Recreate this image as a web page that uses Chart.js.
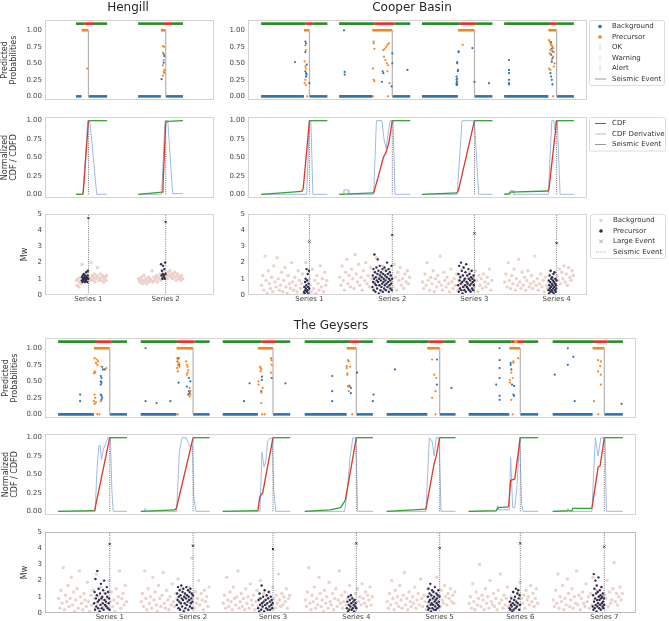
<!DOCTYPE html>
<html>
<head>
<meta charset="utf-8">
<script src="https://cdn.jsdelivr.net/npm/chart.js@4/dist/chart.umd.min.js"></script>
<style>
  body { margin: 0; background: #fff; width: 669px; height: 621px; position: relative; overflow: hidden; }
  canvas { position: absolute; }
</style>
</head>
<body>
<canvas id="h1"></canvas><canvas id="h2"></canvas><canvas id="h3"></canvas>
<canvas id="c1"></canvas><canvas id="c2"></canvas><canvas id="c3"></canvas>
<canvas id="g1"></canvas><canvas id="g2"></canvas><canvas id="g3"></canvas>
<script>
// ---- Hengill ----
const hengillLabels = ['Series 1', 'Series 2'];
const hengillStart = [0, 90];
const hengillEnd = [45, 155];
const hengillPre = [8, 123];
const hengillRise = [10, 125];
const hengillEvent = [18, 130];
const hengillAlert = [[12, 26], [126, 139]];
const hengillWarn = [];
const hengillLarge = [4.75, 4.5];
const hengillBgProb = [[124, 0.26], [127, 0.64], [128, 0.61], [127, 0.51]];
const hengillPreProb = [[16, 0.42], [126, 0.76], [128, 0.75], [126, 0.66], [127, 0.55], [126, 0.47], [128, 0.4], [127, 0.37], [128, 0.35], [126, 0.31]];
const hengillCdf = [
  [[0, 0], [10, 0], [11, 0.1], [18, 1], [45, 1]],
  [[90, 0], [125, 0.03], [126, 0.1], [130, 0.98], [133, 0.99], [155, 1]]
];
const hengillCdfd = [
  [[0, 0], [10, 0], [17, 1], [20, 1], [30, 0], [45, 0]],
  [[90, 0], [124, 0], [129, 1], [133, 1], [140, 0.01], [155, 0.01]]
];
const hengillBgMw = [
  [0.9,0.6,1.0,0.5,0.8,1.1,0.7,1.9,0.9,1.0,0.8,1.2,0.9,1.4,1.0,0.8,1.1,0.9,1.0,2.0,1.2,0.9,1.1,1.3,0.8,1.0,1.2,1.7,1.1,0.9,1.0,1.3,0.9,1.1,1.2,0.8,1.0,1.1,0.9,1.2],
  [1.0,0.8,0.9,1.1,0.7,0.9,1.2,0.8,1.0,0.7,0.9,1.1,0.8,1.0,0.9,1.5,0.8,1.1,0.9,1.0,1.2,0.8,1.1,1.0,1.3,0.9,1.2,1.0,1.4,1.1,1.3,1.2,1.0,1.4,1.2,1.5,1.1,1.3,1.0,1.2,1.4,1.1,0.9,1.3,1.2,1.0,1.1,0.9,1.2,1.0]
];
const hengillPreMw = [
  [0.9,1.1,0.8,1.2,1.0,0.9,1.3,1.0,1.1,0.8,1.2,1.0,0.9,1.4,1.1,1.0,0.8,1.2,1.5,1.0],
  [1.9,1.2,1.5,1.0,1.3,1.8,1.1,1.2,1.6,1.0,2.0,1.3]
];

// ---- Cooper Basin ----
const cooperLabels = ['Series 1', 'Series 2', 'Series 3', 'Series 4'];
const cooperStart = [0, 113, 233, 352];
const cooperEnd = [96, 216, 335, 453];
const cooperPre = [62, 161, 285, 416];
const cooperRise = [59, 163, 284, 416];
const cooperEvent = [70, 190, 309, 428];
const cooperAlert = [[64, 74], [164, 193], [287, 310], [417, 428]];
const cooperWarn = [];
const cooperLarge = [3.3, 3.7, 3.8, 3.2];
const cooperBgProb = [
  [49,0.52],[64,0.83],[65,0.8],[64,0.67],[66,0.48],[64,0.38],[65,0.35],[66,0.33],[65,0.3],[70,0.2],
  [120,1.0],[121,0.37],[121,0.33],[176,0.38],[177,0.35],[175,0.22],[190,0.65],[190,0.5],[189,0.15],[212,0.4],
  [284,0.52],[284,0.5],[286,0.68],[286,0.67],[285,0.4],[285,0.38],[283,0.3],[284,0.27],[283,0.25],[284,0.22],[283,0.2],[284,0.18],[283,0.17],[306,0.73],[309,0.22],[330,0.2],
  [359,0.55],[359,0.4],[359,0.35],[359,0.25],[359,0.2],[359,0.18],[420,0.82],[421,0.72],[422,0.68],[420,0.63],[422,0.58],[421,0.52],[419,0.35],[420,0.3],[421,0.25],[422,0.18]
];
const cooperPreProb = [
  [64,0.77],[65,0.7],[63,0.53],[64,0.45],[65,0.42],[64,0.25],[63,0.2],[65,0.17],[67,0],
  [163,0.83],[163,0.8],[164,0.72],[162,0.42],[163,0.25],[164,0.23],[177,0.7],[179,0.72],[181,0.75],[183,0.78],[185,0.8],[178,0.6],[180,0.55],[182,0.5],[184,0.47],[186,0.2],[183,0.38],[162,0],[184,0],
  [292,0.78],
  [417,0.85],[418,0.83],[419,0.8],[420,0.78],[421,0.77],[422,0.75],[423,0.73],[419,0.7],[424,0.67],[418,0.65],[423,0.6],[421,0.55],[425,0.5],[424,0.45],[417,0.42],[419,0.4],[423,0]
];
const cooperCdf = [
  [[0,0],[59,0.04],[61,0.08],[70,1],[96,1]],
  [[113,0],[163,0.02],[170,0.25],[177,0.5],[181,0.57],[185,0.7],[188,0.88],[190,1],[216,1]],
  [[233,0],[284,0.02],[286,0.06],[309,1],[335,1]],
  [[352,0],[360,0.01],[361,0.03],[416,0.045],[417,0.08],[428,1],[453,1]]
];
const cooperCdfd = [
  [[0,0],[66,0],[70,1],[72,1],[75,0],[96,0]],
  [[113,0],[119,0],[120,0.06],[126,0.06],[127,0],[163,0],[167,1],[175,1],[178,0.75],[181,0.62],[185,0.9],[187,1],[191,1],[194,0],[216,0]],
  [[233,0],[284,0],[291,1],[309,1],[315,0],[335,0]],
  [[352,0],[360,0],[361,0.05],[365,0.05],[366,0],[416,0],[421,1],[424,1],[425,0.88],[427,1],[429,1],[433,0],[453,0]]
];
const cooperBgMw = [
  [0.6,1.2,0.3,2.4,0.9,0.1,1.5,0.7,0.4,1.1,0.2,1.8,0.8,0.5,2.3,1.0,0.3,0.6,1.4,0.2,0.9,1.7,0.5,0.1,1.2,0.7,0.4,2.0,0.8,0.3,1.1,0.6,0.2,1.5,0.9,0.4,0.7,1.3,0.1,0.5,2.0,0.8,0.3,1.0,0.6,0.2,1.6,0.4,0.9,0.1,1.2,0.7,0.3,1.8,0.5,1.0,0.2,1.4,0.6,0.9],
  [1.1,0.6,1.8,0.9,0.3,1.4,2.2,0.7,1.2,0.5,1.6,1.0,0.4,2.5,1.3,0.8,1.9,0.6,1.1,0.3,1.5,0.9,2.0,0.7,1.2,0.5,1.7,1.0,0.4,1.4,0.8,2.3,1.1,0.6,1.3,0.2,1.8,0.9,1.5,0.7,1.0,0.4,1.6,1.2,0.8,0.5,1.9,1.1,0.3,1.4,0.9,1.7,0.6,1.0,0.4,1.3,0.8,1.5,0.7,1.1],
  [0.8,0.4,1.3,0.6,2.0,0.9,0.3,1.1,0.7,1.5,0.2,1.0,0.5,1.2,0.8,2.4,0.6,0.3,1.4,0.9,0.5,1.1,0.7,0.2,1.6,0.8,0.4,1.0,0.6,1.3,0.3,0.9,1.2,0.5,0.7,1.7,0.4,1.0,0.6,0.8,1.4,0.3,1.1,0.7,0.5,1.5,0.9,0.2,1.2,0.6,1.0,0.4,1.3,0.8,0.5,1.1,0.7,1.6,0.3,0.9],
  [0.8,1.3,0.5,2.0,0.9,0.4,1.2,0.7,1.6,0.3,1.0,0.6,2.2,0.8,0.4,1.4,0.6,1.1,0.3,0.9,1.5,0.5,0.7,1.2,0.4,0.8,2.4,0.6,1.0,0.3,0.7,1.3,0.5,0.9,0.2,1.1,0.6,0.4,0.8,1.5,0.3,0.7,1.0,0.5,0.6,1.2,0.9,1.6,0.7,1.4,1.0,1.8,0.8,1.3,0.6,1.7,1.1,0.9,1.5,1.2]
];
const cooperPreMw = [
  [0.2,0.5,0.1,0.8,0.3,1.0,0.4,0.6,1.6,0.2,0.9,0.3,1.3,0.5,0.1,0.7,1.5,0.4],
  [0.5,1.2,0.8,1.6,0.3,1.0,2.5,0.7,1.4,0.2,1.1,0.6,1.7,0.9,0.4,1.3,2.2,0.8,1.5,0.1,1.0,0.6,1.8,1.2,0.3,0.9,1.4,0.5,1.1,0.7,1.6,0.2,1.3,0.8,1.0,0.4,1.7,0.6,1.2,0.9,0.3,1.5,0.7,1.1,2.0,0.5,1.3,0.8,1.6,0.2,1.0,0.6,1.4,0.9,0.4,1.2,0.7,1.8,0.3,1.0],
  [0.6,1.3,0.2,1.8,0.9,0.4,1.1,0.7,2.0,0.3,1.5,0.8,0.1,1.2,0.5,1.7,0.9,0.3,1.0,0.6,1.4,0.2,1.9,0.8,0.5,1.2,0.7,0.4,1.6,1.0,0.3,1.3,0.6,0.9,0.2,1.1,0.7,1.5,0.4,1.0,0.8,0.3,1.2,0.6,0.9],
  [0.3,0.9,0.1,0.6,1.2,0.4,0.8,0.2,1.5,0.5,1.0,0.3,0.7,1.1,0.2,0.6,0.9,0.4,1.3,0.1,0.8,0.5,1.4,0.3,0.7,1.0,0.2,0.6,0.4,0.9]
];

// ---- The Geysers ----
const geysersLabels = ['Series 1', 'Series 2', 'Series 3', 'Series 4', 'Series 5', 'Series 6', 'Series 7'];
const geysersStart = [0, 120, 239, 358, 477, 596, 718];
const geysersEnd = [100, 220, 337, 457, 577, 697, 820];
const geysersPre = [52, 172, 290, 419, 536, 655, 776];
const geysersRise = [53, 170, 290, 417, 534, 654, 775];
const geysersEvent = [75, 196, 312, 433, 554, 671, 793];
const geysersAlert = [[55, 78], [174, 198], [295, 315], [424, 437], [538, 560], [658, 675], [778, 798]];
const geysersWarn = [[662, 667]];
const geysersLarge = [4.25, 4.15, 3.95, 4.3, 4.0, 4.3, 4.1];
const geysersBgProb = [
  [32,0.3],[32,0.2],[62,0.58],[63,0.55],[62,0.5],[63,0.48],[62,0.45],[68,0.68],[64,0.72],[65,0.68],[62,0.3],[63,0.28],[64,0.25],[63,0.22],
  [127,1.0],[127,0.2],[143,0.17],[163,0.2],[175,0.85],[176,0.75],[175,0.48],[190,0.55],[192,0.5],[187,0.42],[190,0.35],[191,0.32],[189,0.3],
  [270,0.2],[278,0.47],[296,0.57],[296,0.52],[295,0.35],[310,0.55],[330,0.47],
  [398,0.58],[398,0.35],[398,0.2],[423,0.43],[425,0.4],[425,0.32],[434,0.63],[458,0.3],[457,0.2],
  [489,0.68],[550,0.83],[550,0.45],[571,0.4],
  [641,1.0],[641,0.82],[641,0.7],[641,0.55],[641,0.28],[641,0.22],[636,0.45],[657,0.78],[657,0.75],[658,0.68],[659,0.45],[662,0.43],[661,0.3],[662,0.28],
  [740,1.0],[748,0.87],[740,0.75],[721,0.6],[750,0.2],[818,0.16]
];
const geysersPreProb = [
  [53,0.85],[56,0.83],[58,0.8],[55,0.78],[57,0.75],[53,0.65],[54,0.63],[52,0.62],[63,0.72],[70,0.7],[53,0.3],[54,0.25],[52,0.2],[55,0.18],[53,0.16],[62,0.2],[57,0],[60,0],
  [173,0.85],[174,0.83],[173,0.8],[175,0.78],[174,0.75],[176,0.72],[173,0.7],[174,0.65],[186,0.8],[187,0.75],[188,0.72],[189,0.67],[188,0.63],[187,0.6],[191,0.4],[192,0.35],[192,0.3],[191,0.27],[174,0],
  [293,0.72],[294,0.7],[295,0.68],[294,0.65],[291,0.5],[291,0.45],[297,0.4],[295,0.33],[295,0.17],[309,0.85],[310,0.82],[310,0.75],[309,0.63],[296,0],[300,0],
  [421,0.82],[422,0.8],[419,0.73],[419,0.7],[420,0.62],[420,0.6],[421,0.43],[421,0.42],[424,0.72],[422,0.35],[427,0],
  [543,0.83],[546,0.6],[549,0.55],[548,0.35],[543,0.25],[548,0],
  [668,0.85],[661,0.8],[661,0.78],[658,0.63],[660,0.55],[656,0.52],[656,0.48],[658,0.22],[660,0],
  [778,0.2],[784,0.82],[788,0.8],[787,0.73],[784,0.65],[788,0.6],[788,0.45],[784,0]
];
const geysersCdf = [
  [[0,0],[53,0.01],[75,1],[100,1]],
  [[120,0],[170,0.02],[172,0.05],[196,1],[220,1]],
  [[239,0],[290,0.01],[293,0.2],[297,0.25],[312,1],[337,1]],
  [[358,0],[395,0.02],[410,0.05],[417,0.15],[433,1],[457,1]],
  [[477,0],[534,0.03],[546,0.65],[549,0.75],[554,1],[577,1]],
  [[596,0],[636,0.01],[639,0.05],[654,0.06],[657,0.42],[663,0.44],[671,1],[697,1]],
  [[718,0],[746,0.01],[747,0.04],[775,0.04],[784,0.6],[787,0.62],[793,1],[820,1]]
];
const geysersCdfd = [
  [[0,0],[54,0],[56,0.5],[59,0.88],[61,0.9],[63,0.7],[66,0.85],[69,0.92],[72,1],[76,1],[78,0.3],[80,0],[100,0]],
  [[120,0],[125,0],[126,0.04],[128,0],[172,0],[176,0.8],[180,1],[186,1],[191,0.88],[195,0.9],[197,0.2],[200,0],[220,0]],
  [[239,0],[293,0],[296,0.8],[299,0.6],[302,0.7],[304,0.95],[308,1],[311,0.98],[313,0.3],[316,0],[337,0]],
  [[358,0],[416,0],[420,0.3],[424,0.75],[428,1],[432,1],[435,0],[457,0]],
  [[477,0],[534,0],[539,1],[543,0.95],[546,0.75],[549,1],[553,1],[556,0],[577,0]],
  [[596,0],[636,0],[638,0.08],[640,0.02],[655,0.02],[657,0.73],[660,0.05],[663,0.05],[666,0.3],[670,1],[673,0.1],[675,0],[697,0]],
  [[718,0],[739,0],[740,0.04],[742,0],[775,0],[780,1],[784,0.75],[788,1],[794,1],[796,0],[820,0]]
];
const geysersBgMw = [
  [0.9,0.3,1.4,0.6,2.8,0.2,1.1,0.7,1.7,0.4,0.9,2.2,0.5,1.3,0.1,0.8,1.5,0.3,2.6,1.0,0.6,0.2,1.2,0.8,0.4,1.9,0.7,0.1,1.1,0.5,1.4,0.9,0.3,2.4,0.6,1.0,0.2,1.6,0.8,0.4,1.2,0.5,0.9,0.3,2.0,0.7,1.3,0.4,0.8,0.1,1.5,0.6,1.0,2.6,0.3,0.9,1.2,0.5,1.7,0.7],
  [0.7,1.2,0.4,2.6,0.9,0.2,1.5,0.6,1.0,0.3,2.2,0.8,1.3,0.5,0.1,1.7,0.9,0.4,1.1,2.5,0.6,0.3,1.4,0.8,0.2,1.0,0.5,1.8,0.7,0.4,1.2,0.9,2.1,0.3,0.6,1.5,0.8,0.2,1.1,0.5,0.9,1.6,0.4,0.7,3.4,1.0,0.3,1.3,0.6,0.9,2.0,0.5,1.2,0.8,0.2,1.4,0.7,1.0,0.4,1.6],
  [0.6,1.1,0.3,2.2,0.8,0.4,1.3,0.7,0.2,1.6,0.9,0.5,1.0,2.6,0.3,0.7,1.2,0.4,0.9,0.2,1.5,0.6,1.0,0.3,1.8,0.8,0.5,1.1,0.2,0.7,1.4,0.4,0.9,2.0,0.6,0.3,1.2,0.8,0.5,1.0,0.2,1.3,0.7,0.4,1.6,0.9,0.3,1.1,0.6,2.4,0.8,0.4,1.2,0.5,1.0,0.7,1.5,0.3,0.9,1.1],
  [0.8,0.4,1.3,2.8,0.6,0.2,1.1,0.7,1.6,0.3,0.9,0.5,2.2,1.2,0.4,0.8,0.1,1.4,0.6,1.0,0.3,1.9,0.7,0.5,1.2,0.2,0.9,1.5,0.4,0.8,2.6,0.6,1.1,0.3,0.7,1.3,0.5,0.9,0.2,1.7,0.6,1.0,0.4,0.8,1.2,0.3,1.5,0.7,1.0,0.5,1.8,0.9,0.6,1.3,0.4,1.1,0.8,1.6,0.5,1.0],
  [0.7,0.3,1.2,0.5,2.0,0.9,0.2,1.4,0.6,1.0,0.4,1.7,0.8,0.3,1.1,2.5,0.5,0.9,0.2,1.3,0.7,0.4,1.0,0.6,1.6,0.3,0.8,1.2,0.5,2.1,0.9,0.4,1.1,0.7,0.2,1.5,0.6,1.0,0.3,0.8,1.3,0.5,0.9,2.2,0.7,1.1,0.4,1.4,0.8,0.6,1.7,1.0,0.5,1.2,0.9,1.5,0.7,1.1,0.6,1.3],
  [0.6,1.0,0.3,1.8,0.7,0.2,1.3,0.5,0.9,3.0,0.4,1.1,0.8,0.2,1.5,0.6,1.0,0.3,2.0,0.7,0.5,1.2,0.4,0.9,0.2,1.4,0.6,2.4,0.8,0.3,1.1,0.5,0.9,1.6,0.4,0.7,1.0,0.2,1.3,0.6,0.8,0.4,1.2,0.5,1.9,0.9,0.6,1.1,0.3,1.4,0.8,1.0,0.5,1.7,0.7,1.2,0.4,0.9,1.5,0.6],
  [0.8,0.4,1.4,0.6,2.4,0.3,1.0,0.7,1.7,0.2,0.9,0.5,2.1,1.2,0.4,0.8,1.5,0.3,1.0,0.6,2.6,0.5,1.1,0.2,0.9,1.3,0.6,0.4,1.8,0.7,1.0,0.3,1.2,0.5,2.2,0.8,0.4,1.4,0.6,1.0,0.3,1.6,0.7,0.5,1.1,0.9,2.0,0.4,1.3,0.6,0.8,1.5,3.1,0.7,1.2,0.5,1.0,1.6,0.8,1.2]
];
const geysersPreMw = [
  [0.6,1.3,0.2,2.1,0.9,0.4,1.1,2.6,0.7,0.3,1.5,0.8,0.1,1.2,0.5,1.8,0.9,0.3,1.0,0.6,1.4,0.2,2.0,0.8,0.5,1.2,0.7,0.4,1.6,1.0,0.3,1.3,0.6,0.9,0.2],
  [0.5,1.2,0.8,1.6,0.3,1.0,0.7,1.4,0.2,1.1,0.6,1.7,0.9,0.4,1.3,0.8,1.5,0.1,1.0,0.6,1.2,0.3,0.9,1.6,0.5,1.1,0.7,1.4,0.2,1.0,0.8,1.3,0.4,1.5,0.6,0.9,1.2,0.3,0.7,1.1],
  [0.3,0.8,0.1,1.2,0.5,0.9,0.2,1.7,0.6,0.4,1.0,0.7,0.1,1.4,0.5,0.8,0.3,1.1,0.6,0.2,0.9,1.3,0.4,0.7,0.2,1.0,0.5,0.8,0.3,0.6],
  [0.3,0.7,0.1,1.0,0.5,0.2,0.8,0.4,1.1,0.6,0.2,0.9,0.3,0.7,0.5,0.1,0.8,0.4,0.6,0.3],
  [0.4,1.0,0.2,1.5,0.7,0.3,1.2,0.8,1.8,0.5,0.1,1.1,0.6,1.4,0.3,0.9,0.5,1.3,0.2,1.0,0.7,1.6,0.4,0.8,0.2,1.2,0.6,0.9,0.3,1.1,0.5,1.4,0.7,0.4,1.0],
  [0.3,0.7,0.2,0.5,0.9,0.4,0.1,0.6,1.3,0.2,0.8,0.5,1.0,0.3,1.5,0.7,0.4,1.2,0.6,1.4,0.9,0.2,1.1,0.5],
  [0.4,1.1,0.2,2.4,0.7,1.5,0.3,0.9,2.0,0.5,1.2,0.1,1.7,0.8,0.4,1.3,0.6,2.2,1.0,0.3,0.8,1.4,0.5,1.1,0.2,0.9,1.6,0.6,1.0,0.4,1.2,0.7,0.3,0.9,0.5]
];

// colours
const BLUE = '#2f74b5', ORANGE = '#f7851f', GREEN = '#2b8c2b', RED = '#ec2b22', WARN = '#f6a33a';
const CDF_GREEN = '#35a035', CDF_RED = '#d93a2b', DERIV = '#9fbbe0';
const PINK = '#ebd2cb', NAVY = '#2c2c4e';

Chart.defaults.font.family = '"DejaVu Sans", sans-serif';

const hengill = {start: hengillStart, end: hengillEnd, pre: hengillPre, rise: hengillRise, event: hengillEvent,
  alert: hengillAlert, warn: hengillWarn, large: hengillLarge, bgProb: hengillBgProb, preProb: hengillPreProb,
  cdf: hengillCdf, cdfd: hengillCdfd, bgMw: hengillBgMw, preMw: hengillPreMw};
const cooper = {start: cooperStart, end: cooperEnd, pre: cooperPre, rise: cooperRise, event: cooperEvent,
  alert: cooperAlert, warn: cooperWarn, large: cooperLarge, bgProb: cooperBgProb, preProb: cooperPreProb,
  cdf: cooperCdf, cdfd: cooperCdfd, bgMw: cooperBgMw, preMw: cooperPreMw};
const geysers = {start: geysersStart, end: geysersEnd, pre: geysersPre, rise: geysersRise, event: geysersEvent,
  alert: geysersAlert, warn: geysersWarn, large: geysersLarge, bgProb: geysersBgProb, preProb: geysersPreProb,
  cdf: geysersCdf, cdfd: geysersCdfd, bgMw: geysersBgMw, preMw: geysersPreMw};

function seg(x0, x1, y0, y1, color, width, dash) {
  return {type: 'line', data: [{x: x0, y: y0}, {x: x1, y: y1}], borderColor: color, borderWidth: width,
    borderDash: dash || [], pointRadius: 0, fill: false};
}
function dots(points, color, r) {
  return {type: 'scatter', data: points.map(p => ({x: p[0], y: p[1]})), backgroundColor: color,
    borderWidth: 0, pointRadius: r};
}
// place catalogue values one after another along a series' index range
function spread(vals, x0, x1) {
  const step = (x1 - x0) / vals.length;
  return vals.map((v, i) => [x0 + (i + 0.5) * step, v]);
}

function probSets(R) {
  const out = [];
  R.start.forEach((s, i) => {
    const f = R.end[i], a = R.alert[i], e = R.event[i];
    out.push(seg(s, R.pre[i], 0, 0, BLUE, 2.6), seg(e, f, 0, 0, BLUE, 2.6));
    out.push(seg(R.pre[i], e, 1, 1, ORANGE, 2.6));
    out.push(seg(s, a[0], 1.1, 1.1, GREEN, 2.6), seg(a[0], a[1], 1.1, 1.1, RED, 2.6), seg(a[1], f, 1.1, 1.1, GREEN, 2.6));
  });
  R.warn.forEach(w => out.push(seg(w[0], w[1], 1.1, 1.1, WARN, 2.6)));
  R.event.forEach(e => out.push(seg(e, e, 0, 1, '#b3b3b3', 1.2)));
  out.push(dots(R.bgProb, BLUE, 1.1), dots(R.preProb, ORANGE, 1.1));
  return out;
}

function cdfSets(R) {
  const out = [];
  R.cdfd.forEach(c => out.push({type: 'line', data: c.map(p => ({x: p[0], y: p[1]})),
    borderColor: DERIV, borderWidth: 1, pointRadius: 0}));
  R.cdf.forEach((c, i) => out.push({type: 'line', data: c.map(p => ({x: p[0], y: p[1]})),
    borderWidth: 1.3, pointRadius: 0, borderColor: CDF_GREEN,
    segment: {borderColor: ctx => (ctx.p0.parsed.x >= R.rise[i] && ctx.p1.parsed.x <= R.event[i] + 0.5) ? CDF_RED : CDF_GREEN}}));
  R.event.forEach(e => out.push(seg(e, e, 0, 1, '#6f6f6f', 1, [1, 1.2])));
  return out;
}

function mwSets(R) {
  const out = [];
  R.bgMw.forEach((v, i) => out.push(dots(spread(v, R.start[i], R.end[i]), PINK, 1.7)));
  R.event.forEach(e => out.push(seg(e, e, 0, 5, '#7a7a7a', 1, [1, 1.2])));
  R.preMw.forEach((v, i) => out.push(dots(spread(v, R.pre[i], R.event[i]), NAVY, 1.2)));
  out.push({type: 'scatter', data: R.event.map((e, i) => ({x: e, y: R.large[i]})), pointStyle: 'crossRot',
    pointRadius: 1.6, borderColor: '#333', borderWidth: 1});
  return out;
}

const PROB_LEGEND = [
  {kind: 'dot', color: BLUE, label: 'Background'},
  {kind: 'dot', color: ORANGE, label: 'Precursor'},
  {kind: 'tick', color: '#c2e2c2', label: 'OK'},
  {kind: 'tick', color: '#fbdcb8', label: 'Warning'},
  {kind: 'tick', color: '#f6c6c4', label: 'Alert'},
  {kind: 'line', color: '#999', label: 'Seismic Event'}
];
const CDF_LEGEND = [
  {kind: 'line', color: '#3f7f3f', label: 'CDF'},
  {kind: 'line', color: '#a9c2e2', label: 'CDF Derivative'},
  {kind: 'line', color: '#999', label: 'Seismic Event'}
];
const MW_LEGEND = [
  {kind: 'dot', color: '#ebd2cc', label: 'Background'},
  {kind: 'dot', color: NAVY, label: 'Precursor'},
  {kind: 'cross', color: '#888', label: 'Large Event'},
  {kind: 'dotted', color: '#aaa', label: 'Seismic Event'}
];

function drawLegend(ctx, L, ox, oy) {
  const x = L.x - ox, y = L.y - oy, rowH = 10.5;
  const h = L.items.length * rowH + 2;
  ctx.fillStyle = 'rgba(255,255,255,0.85)';
  ctx.strokeStyle = '#dcdcdc';
  ctx.lineWidth = 1;
  ctx.beginPath();
  ctx.roundRect(x + 0.5, y + 0.5, L.w, h, 2);
  ctx.fill();
  ctx.stroke();
  ctx.font = '7px "DejaVu Sans"';
  ctx.textAlign = 'left';
  ctx.textBaseline = 'middle';
  L.items.forEach((it, i) => {
    const cy = y + 6.5 + i * rowH, mx = x + 11;
    ctx.fillStyle = it.color;
    ctx.strokeStyle = it.color;
    if (it.kind === 'dot') {
      ctx.beginPath(); ctx.arc(mx, cy, 1.8, 0, 2 * Math.PI); ctx.fill();
    } else if (it.kind === 'tick') {
      ctx.lineWidth = 1; ctx.beginPath(); ctx.moveTo(mx, cy - 3); ctx.lineTo(mx, cy + 3); ctx.stroke();
    } else if (it.kind === 'cross') {
      ctx.lineWidth = 0.8; ctx.beginPath();
      ctx.moveTo(mx - 1.8, cy - 1.8); ctx.lineTo(mx + 1.8, cy + 1.8);
      ctx.moveTo(mx + 1.8, cy - 1.8); ctx.lineTo(mx - 1.8, cy + 1.8); ctx.stroke();
    } else {
      ctx.lineWidth = 1;
      ctx.setLineDash(it.kind === 'dotted' ? [1, 1.2] : []);
      ctx.beginPath(); ctx.moveTo(mx - 5, cy); ctx.lineTo(mx + 6, cy); ctx.stroke();
      ctx.setLineDash([]);
    }
    ctx.fillStyle = '#333';
    ctx.fillText(it.label, x + 23, cy);
  });
}

const decorConf = {};
const decor = {
  id: 'decor',
  afterDraw(chart) {
    const o = decorConf[chart.canvas.id];
    const {ctx, chartArea: a} = chart;
    ctx.save();
    ctx.strokeStyle = o.frame || '#d3d3d3';
    ctx.lineWidth = 1;
    ctx.strokeRect(a.left + 0.5, a.top + 0.5, a.width - 1, a.height - 1);
    if (o.heading) {
      ctx.fillStyle = '#262626';
      ctx.font = '12px "DejaVu Sans"';
      ctx.textAlign = 'center';
      ctx.textBaseline = 'alphabetic';
      ctx.fillText(o.heading.text, o.heading.x - o.left, o.heading.y - o.top);
    }
    if (o.legend) drawLegend(ctx, o.legend, o.left, o.top);
    ctx.restore();
  }
};

function panel(id, o) {
  const el = document.getElementById(id);
  const padRight = o.padRight || 3, xh = o.xh || 0;
  const W = o.box.r - o.box.l + o.yw + padRight;
  const H = o.box.b - o.box.t + o.padTop + xh;
  const left = o.box.l - o.yw, top = o.box.t - o.padTop;
  el.width = W; el.height = H;
  el.style.left = left + 'px'; el.style.top = top + 'px';
  el.style.width = W + 'px'; el.style.height = H + 'px';
  decorConf[id] = {left, top, frame: o.frame, heading: o.heading, legend: o.legend};
  new Chart(el, {
    type: 'scatter',
    data: {datasets: o.sets.slice().reverse()},
    options: {
      responsive: false, animation: false, devicePixelRatio: 1, events: [],
      layout: {autoPadding: false, padding: {top: o.padTop, right: padRight, left: 0, bottom: 0}},
      plugins: {legend: {display: false}, tooltip: {enabled: false}},
      scales: {
        x: {
          type: 'linear', min: o.xr[0], max: o.xr[1], display: xh > 0,
          grid: {display: false, drawTicks: false}, border: {display: false},
          afterBuildTicks: s => { s.ticks = (o.xTicks || []).map(v => ({value: v})); },
          afterFit: s => { s.height = xh; s.paddingLeft = 0; s.paddingRight = 0; },
          ticks: {autoSkip: false, maxRotation: 0, padding: 0, color: '#444', font: {size: 7},
            callback: (v, i) => (o.xLabels || [])[i]}
        },
        y: {
          type: 'linear', min: o.yr[0], max: o.yr[1],
          grid: {display: false, drawTicks: false}, border: {display: false},
          afterBuildTicks: s => { s.ticks = o.yTicks.map(v => ({value: v})); },
          afterFit: s => { s.width = o.yw; s.paddingTop = 0; s.paddingBottom = 0; },
          ticks: {padding: 3, color: '#444', font: {size: 7}, callback: o.yFmt},
          title: {display: !!o.yTitle, text: o.yTitle, color: '#333', font: {size: 8, lineHeight: 1.15},
            padding: {top: o.titlePad || 0, bottom: 0}}
        }
      }
    },
    plugins: [decor]
  });
}

const PROB_TICKS = [0, 0.25, 0.5, 0.75, 1];
const MW_TICKS = [0, 1, 2, 3, 4, 5];
const fmt2 = v => v.toFixed(2);
const fmt0 = v => String(v);
const PROB_Y = [-0.055, 1.155], CDF_Y = [-0.05, 1.05], MW_Y = [0, 5];
const hengillX = [-45, 200], cooperX = [-19, 472], geysersX = [-19, 839];
const probTitle = ['Predicted', 'Probabilities'];
const cdfTitle = ['Normalized', 'CDF / CDFD'];

// Hengill
panel('h1', {box: {l: 45, t: 20, r: 214, b: 100}, yw: 45, padTop: 20, xr: hengillX, yr: PROB_Y,
  yTicks: PROB_TICKS, yFmt: fmt2, yTitle: probTitle, titlePad: 0.5, sets: probSets(hengill),
  heading: {text: 'Hengill', x: 128, y: 11}});
panel('h2', {box: {l: 45, t: 117, r: 214, b: 198}, yw: 45, padTop: 10, xr: hengillX, yr: CDF_Y,
  yTicks: PROB_TICKS, yFmt: fmt2, yTitle: cdfTitle, titlePad: 0.5, sets: cdfSets(hengill)});
panel('h3', {box: {l: 45, t: 214, r: 214, b: 295}, yw: 45, padTop: 8, xh: 14, xr: hengillX, yr: MW_Y,
  yTicks: MW_TICKS, yFmt: fmt0, yTitle: 'Mw', titlePad: 20, sets: mwSets(hengill),
  xTicks: hengillEvent, xLabels: hengillLabels});

// Cooper Basin
panel('c1', {box: {l: 248, t: 20, r: 587, b: 100}, yw: 30, padTop: 20, padRight: 80, xr: cooperX, yr: PROB_Y,
  yTicks: PROB_TICKS, yFmt: fmt2, sets: probSets(cooper),
  heading: {text: 'Cooper Basin', x: 412, y: 11},
  legend: {x: 589, y: 20, w: 75, items: PROB_LEGEND}});
panel('c2', {box: {l: 248, t: 117, r: 587, b: 198}, yw: 30, padTop: 10, padRight: 80, xr: cooperX, yr: CDF_Y,
  yTicks: PROB_TICKS, yFmt: fmt2, sets: cdfSets(cooper),
  legend: {x: 589, y: 117, w: 76, items: CDF_LEGEND}});
panel('c3', {box: {l: 248, t: 214, r: 587, b: 295}, yw: 30, padTop: 8, padRight: 80, xh: 14, xr: cooperX, yr: MW_Y,
  yTicks: MW_TICKS, yFmt: fmt0, sets: mwSets(cooper), xTicks: cooperEvent, xLabels: cooperLabels,
  legend: {x: 590, y: 214, w: 75, items: MW_LEGEND}});

// The Geysers
panel('g1', {box: {l: 45, t: 338, r: 636, b: 418}, yw: 45, padTop: 24, xr: geysersX, yr: PROB_Y,
  yTicks: PROB_TICKS, yFmt: fmt2, yTitle: probTitle, titlePad: 1.5, sets: probSets(geysers),
  heading: {text: 'The Geysers', x: 331, y: 329}});
panel('g2', {box: {l: 45, t: 434, r: 636, b: 515}, yw: 45, padTop: 10, xr: geysersX, yr: CDF_Y,
  yTicks: PROB_TICKS, yFmt: fmt2, yTitle: cdfTitle, titlePad: 1.5, sets: cdfSets(geysers)});
panel('g3', {box: {l: 45, t: 532, r: 636, b: 613}, yw: 45, padTop: 8, xh: 8, xr: geysersX, yr: MW_Y,
  yTicks: MW_TICKS, yFmt: fmt0, yTitle: 'Mw', titlePad: 20, sets: mwSets(geysers),
  xTicks: geysersEvent, xLabels: geysersLabels, frame: '#bdbdbd'});
</script>
</body>
</html>
